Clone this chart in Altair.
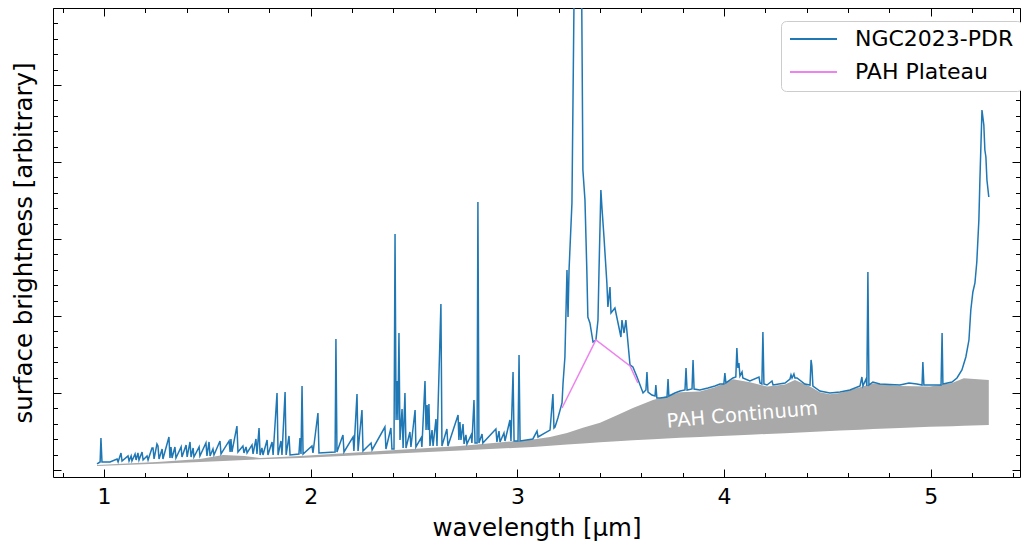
import altair as alt
import pandas as pd

# ---------------- data ----------------
spec_wl = [
    0.966, 0.981, 0.985, 0.990, 1.029, 1.063, 1.068, 1.082, 1.087, 1.116,
    1.121, 1.131, 1.135, 1.150, 1.155, 1.164, 1.169, 1.184, 1.189, 1.208,
    1.213, 1.232, 1.237, 1.242, 1.256, 1.261, 1.266, 1.281, 1.285, 1.314,
    1.319, 1.324, 1.329, 1.343, 1.348, 1.373, 1.377, 1.397, 1.402, 1.416,
    1.421, 1.431, 1.435, 1.460, 1.464, 1.493, 1.498, 1.508, 1.513, 1.527,
    1.532, 1.561, 1.566, 1.605, 1.610, 1.614, 1.619, 1.643, 1.648, 1.672,
    1.677, 1.687, 1.692, 1.716, 1.721, 1.735, 1.740, 1.750, 1.755, 1.764,
    1.769, 1.789, 1.793, 1.813, 1.818, 1.837, 1.842, 1.856, 1.861, 1.876,
    1.881, 1.895, 1.900, 1.943, 1.948, 1.953, 1.958, 1.963, 2.006, 2.011,
    2.035, 2.040, 2.118, 2.122, 2.127, 2.156, 2.161, 2.205, 2.209, 2.224,
    2.229, 2.248, 2.253, 2.292, 2.297, 2.359, 2.364, 2.388, 2.393, 2.403,
    2.408, 2.413, 2.418, 2.422, 2.427, 2.432, 2.442, 2.447, 2.456, 2.461,
    2.480, 2.485, 2.505, 2.509, 2.534, 2.538, 2.553, 2.558, 2.563, 2.568,
    2.572, 2.577, 2.587, 2.592, 2.606, 2.611, 2.630, 2.635, 2.659, 2.664,
    2.713, 2.717, 2.722, 2.727, 2.737, 2.742, 2.751, 2.756, 2.776, 2.780,
    2.790, 2.795, 2.805, 2.809, 2.814, 2.829, 2.833, 2.896, 2.901, 2.911,
    2.916, 2.935, 2.940, 2.964, 2.969, 2.979, 2.984, 3.003, 3.008, 3.013,
    3.075, 3.095, 3.100, 3.134, 3.158, 3.172, 3.177, 3.182, 3.196, 3.216,
    3.221, 3.230, 3.240, 3.245, 3.250, 3.264, 3.279, 3.293, 3.308, 3.317,
    3.327, 3.336, 3.341, 3.351, 3.366, 3.380, 3.390, 3.395, 3.404, 3.409,
    3.419, 3.433, 3.438, 3.448, 3.453, 3.472, 3.487, 3.501, 3.506, 3.516,
    3.525, 3.545, 3.559, 3.579, 3.608, 3.622, 3.627, 3.632, 3.651, 3.666,
    3.670, 3.675, 3.690, 3.724, 3.729, 3.733, 3.762, 3.787, 3.811, 3.816,
    3.821, 3.845, 3.850, 3.855, 3.883, 3.922, 3.956, 3.980, 3.999, 4.004,
    4.009, 4.043, 4.057, 4.062, 4.067, 4.072, 4.077, 4.087, 4.091, 4.125,
    4.169, 4.174, 4.183, 4.188, 4.193, 4.208, 4.232, 4.237, 4.295, 4.319,
    4.324, 4.329, 4.338, 4.343, 4.353, 4.391, 4.416, 4.421, 4.425, 4.430,
    4.464, 4.512, 4.561, 4.609, 4.658, 4.667, 4.672, 4.687, 4.691, 4.696,
    4.701, 4.720, 4.754, 4.851, 4.895, 4.933, 4.958, 4.962, 4.967, 5.045,
    5.050, 5.055, 5.059, 5.103, 5.127, 5.151, 5.170, 5.185, 5.194, 5.204,
    5.214, 5.223, 5.233, 5.238, 5.248, 5.257, 5.262, 5.267, 5.272, 5.281,
]
spec_flux = [
    0.078, 0.104, 0.416, 0.104, 0.104, 0.143, 0.104, 0.221, 0.117, 0.182,
    0.117, 0.182, 0.117, 0.208, 0.130, 0.221, 0.130, 0.234, 0.130, 0.182,
    0.130, 0.286, 0.286, 0.143, 0.338, 0.312, 0.143, 0.273, 0.143, 0.429,
    0.156, 0.299, 0.156, 0.299, 0.156, 0.299, 0.169, 0.325, 0.169, 0.364,
    0.169, 0.286, 0.169, 0.299, 0.182, 0.351, 0.182, 0.364, 0.182, 0.273,
    0.195, 0.377, 0.208, 0.377, 0.234, 0.403, 0.234, 0.571, 0.234, 0.312,
    0.221, 0.299, 0.221, 0.325, 0.208, 0.403, 0.208, 0.545, 0.195, 0.286,
    0.195, 0.390, 0.195, 0.364, 0.195, 1.000, 0.195, 0.377, 0.195, 1.013,
    0.195, 0.442, 0.195, 0.208, 0.416, 0.208, 1.091, 0.208, 0.312, 0.221,
    0.740, 0.221, 0.234, 1.701, 0.234, 0.455, 0.234, 0.429, 0.247, 0.987,
    0.247, 0.779, 0.247, 0.351, 0.260, 0.558, 0.273, 0.545, 0.273, 0.273,
    3.065, 0.649, 1.156, 0.649, 1.779, 0.390, 0.792, 0.286, 1.000, 0.286,
    0.494, 0.299, 0.779, 0.299, 0.416, 0.299, 1.156, 0.519, 0.844, 0.519,
    0.857, 0.312, 0.519, 0.312, 0.662, 0.312, 2.156, 0.312, 0.532, 0.312,
    0.714, 0.390, 0.623, 0.390, 0.597, 0.338, 0.455, 0.338, 0.455, 0.351,
    0.909, 0.351, 0.351, 3.481, 0.351, 0.468, 0.351, 0.532, 0.364, 0.506,
    0.364, 0.481, 0.377, 0.649, 0.377, 1.273, 0.377, 0.377, 1.494, 0.377,
    0.403, 0.506, 0.429, 0.481, 0.519, 0.987, 0.545, 0.558, 0.675, 0.870,
    1.130, 1.468, 2.597, 1.987, 2.597, 3.468, 7.400, 10.00, 7.400, 3.896,
    3.506, 2.597, 1.987, 1.909, 1.662, 1.688, 1.948, 2.597, 3.636, 3.416,
    3.026, 2.429, 2.117, 2.377, 2.039, 2.104, 1.909, 1.727, 1.948, 1.779,
    1.948, 1.364, 1.338, 1.208, 1.000, 1.039, 1.273, 1.013, 0.974, 0.961,
    1.104, 0.935, 0.935, 0.948, 1.182, 0.961, 1.000, 1.026, 1.039, 1.325,
    1.039, 1.052, 1.429, 1.052, 1.039, 1.065, 1.091, 1.117, 1.117, 1.260,
    1.130, 1.195, 1.208, 1.584, 1.325, 1.390, 1.221, 1.273, 1.195, 1.156,
    1.208, 1.130, 1.117, 1.792, 1.117, 1.104, 1.156, 1.104, 1.130, 1.182,
    1.234, 1.195, 1.247, 1.195, 1.195, 1.117, 1.104, 1.429, 1.351, 1.091,
    1.026, 1.000, 1.013, 1.039, 1.091, 1.208, 1.091, 1.182, 1.091, 2.571,
    1.104, 1.143, 1.117, 1.104, 1.130, 1.117, 1.104, 1.403, 1.104, 1.104,
    1.104, 1.779, 1.117, 1.143, 1.195, 1.299, 1.468, 1.688, 2.078, 2.312,
    2.429, 2.701, 3.247, 3.766, 4.675, 4.481, 4.156, 4.065, 3.766, 3.545,
]

plateau_wl = [3.216, 3.380, 3.545, 3.583]
plateau_flux = [0.805, 1.688, 1.351, 1.130]

cont_wl = [0.966, 1.256, 1.464, 1.576, 1.680, 1.755, 1.948, 2.335, 2.722, 3.075,
           3.158, 3.240, 3.317, 3.400, 3.482, 3.559, 3.656, 3.787, 3.883, 3.956,
           4.043, 4.125, 4.208, 4.295, 4.343, 4.416, 4.464, 4.512, 4.561, 4.658,
           4.720, 4.851, 4.996, 5.103, 5.160, 5.281]
cont_top = [0.065, 0.104, 0.143, 0.195, 0.182, 0.156, 0.182, 0.247, 0.312, 0.395,
            0.430, 0.480, 0.550, 0.615, 0.710, 0.805, 0.910, 1.010, 1.020, 1.075,
            1.180, 1.140, 1.085, 1.110, 1.170, 1.085, 1.010, 0.985, 1.000, 1.075,
            1.125, 1.090, 1.085, 1.130, 1.190, 1.170]
cont_bot = [0.052, 0.080, 0.105, 0.118, 0.130, 0.140, 0.155, 0.205, 0.253, 0.300,
            0.315, 0.330, 0.345, 0.360, 0.373, 0.385, 0.400, 0.418, 0.430, 0.438,
            0.448, 0.458, 0.468, 0.478, 0.484, 0.493, 0.500, 0.506, 0.512, 0.524,
            0.531, 0.546, 0.560, 0.568, 0.573, 0.584]

label_wl = [4.091]
label_y = [0.636]
label_text = ["PAH Continuum"]

series_names = ["NGC2023-PDR", "PAH Plateau"]
series_colors = ["#1f77b4", "violet"]

x_major = [1, 2, 3, 4, 5]
x_minor = [0.8, 1.2, 1.4, 1.6, 1.8, 2.2, 2.4, 2.6, 2.8, 3.2, 3.4, 3.6, 3.8,
           4.2, 4.4, 4.6, 4.8, 5.2, 5.4]
y_major = [0, 1, 2, 3, 4, 5, 6]
y_minor = [0.2, 0.4, 0.6, 0.8, 1.2, 1.4, 1.6, 1.8, 2.2, 2.4, 2.6, 2.8,
           3.2, 3.4, 3.6, 3.8, 4.2, 4.4, 4.6, 4.8, 5.2, 5.4, 5.6, 5.8]

# ---------------- frames ----------------
line_df = pd.concat([
    pd.DataFrame({"wl": spec_wl, "flux": spec_flux, "series": series_names[0]}),
    pd.DataFrame({"wl": plateau_wl, "flux": plateau_flux, "series": series_names[1]}),
], ignore_index=True)
cont_df = pd.DataFrame({"wl": cont_wl, "top": cont_top, "bot": cont_bot})
label_df = pd.DataFrame({"wl": label_wl, "y": label_y, "label": label_text})

FONT = "DejaVu Sans"
XS = alt.Scale(domain=[0.753, 5.432], nice=False, zero=False)
YS = alt.Scale(domain=[-0.091, 6.0], nice=False, zero=False)

area = alt.Chart(cont_df).mark_area(color="#a9a9a9", opacity=1).encode(
    x=alt.X("wl:Q", scale=XS, axis=None),
    y=alt.Y("top:Q", scale=YS, axis=None),
    y2="bot:Q",
)

text = alt.Chart(label_df).mark_text(
    color="white", fontSize=19.5, font=FONT, angle=355,
    align="center", baseline="alphabetic",
).encode(
    x=alt.X("wl:Q", scale=XS, axis=None),
    y=alt.Y("y:Q", scale=YS, axis=None),
    text="label:N",
)

lines = alt.Chart(line_df).mark_line(strokeWidth=1.5, clip=True).encode(
    x=alt.X("wl:Q", scale=XS, axis=None),
    y=alt.Y("flux:Q", scale=YS, axis=None),
    color=alt.Color(
        "series:N",
        scale=alt.Scale(domain=series_names, range=series_colors),
        legend=alt.Legend(
            orient="none", legendX=728, legendY=13, title=None,
            symbolType="stroke", symbolSize=2209, symbolStrokeWidth=2,
            labelFontSize=22, labelFont=FONT, labelColor="black",
            labelOffset=17, padding=8, clipHeight=20, rowPadding=11,
            strokeColor="#cccccc", fillColor="white", cornerRadius=5,
        ),
    ),
)

common = dict(domain=False, grid=False, tickColor="black", tickWidth=1)


def axis_layer(xaxis, yaxis):
    return alt.Chart(cont_df).mark_point(opacity=0).encode(
        x=alt.X("wl:Q", scale=XS, axis=xaxis),
        y=alt.Y("top:Q", scale=YS, axis=yaxis),
    )


ax_a = axis_layer(
    alt.Axis(orient="bottom", values=x_major, offset=-8, tickSize=8,
             labelFontSize=22, labelFont=FONT, labelColor="black",
             labelPadding=9, labelFlush=False, format="d",
             title="wavelength [µm]", titleFontSize=24.5, titleFont=FONT,
             titleFontWeight="normal", titleColor="black",
             titleBaseline="alphabetic", titleY=66, **common),
    alt.Axis(orient="left", values=y_major, offset=-8, tickSize=8,
             labels=False, title="surface brightness [arbitrary]",
             titleFontSize=24.5, titleFont=FONT, titleFontWeight="normal",
             titleColor="black", titleAngle=270, titleBaseline="alphabetic",
             titleX=-30, titleY=234.5, **common),
)
ax_b = axis_layer(
    alt.Axis(orient="bottom", values=x_minor, offset=-4.5, tickSize=4.5,
             labels=False, title=None, **common),
    alt.Axis(orient="left", values=y_minor, offset=-4.5, tickSize=4.5,
             labels=False, title=None, **common),
)
ax_c = axis_layer(
    alt.Axis(orient="top", values=x_major, offset=-8, tickSize=8,
             labels=False, title=None, **common),
    alt.Axis(orient="right", values=y_major, offset=-8, tickSize=8,
             labels=False, title=None, **common),
)
ax_d = axis_layer(
    alt.Axis(orient="top", values=x_minor, offset=-4.5, tickSize=4.5,
             labels=False, title=None, **common),
    alt.Axis(orient="right", values=y_minor, offset=-4.5, tickSize=4.5,
             labels=False, title=None, **common),
)

chart = alt.layer(area, text, lines, ax_a, ax_b, ax_c, ax_d).resolve_axis(
    x="independent", y="independent"
).properties(
    width=967, height=469, autosize="none",
    padding={"left": 45, "top": 0, "right": 1, "bottom": 70},
).configure_view(stroke="black", strokeWidth=1)

chart.save("out.html", embed_options={"renderer": "svg", "actions": False})
